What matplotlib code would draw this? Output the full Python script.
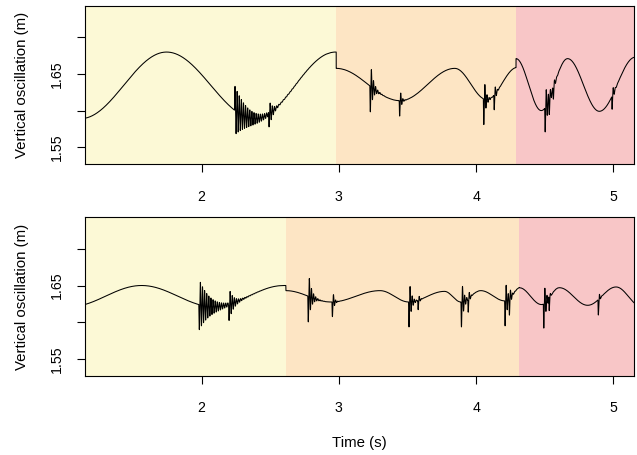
import numpy as np
import matplotlib
matplotlib.use("Agg")
import matplotlib.pyplot as plt

plt.rcParams['font.family'] = ['Liberation Sans', 'DejaVu Sans']

x_range = [1.153, 5.153]
y_range = [1.527, 1.743]
x_ticks = [2, 3, 4, 5]
y_ticks = [1.55, 1.60, 1.65, 1.70]
y_tick_labels = ['1.55', '', '1.65', '']
phase_colours = ['#FCF9D6', '#FDE5C4', '#F8C6C7']
ring_hz = 65.0

# top panel: phase edges, turning points of the sway in each phase, impact bursts
# (hit_amp = size and sign of the first swing of each burst)
top_edges = [1.153, 2.981, 4.291, 5.153]
top_turn_t = [[1.12, 1.745, 2.39, 2.975],
              [2.981, 3.447, 3.845, 4.078, 4.30],
              [4.291, 4.475, 4.667, 4.898, 5.16]]
top_turn_y = [[1.589, 1.680, 1.589, 1.680],
              [1.6577, 1.6135, 1.6577, 1.615, 1.659],
              [1.671, 1.600, 1.671, 1.599, 1.673]]
top_hit_t = [2.240, 2.488, 3.226, 3.440, 4.053, 4.129, 4.500, 4.530, 4.560, 4.988]
top_hit_amp = [0.033, -0.020, -0.035, -0.021, -0.035, -0.020, -0.033, -0.014, -0.014, -0.018]
top_hit_decay = [0.10, 0.03, 0.02, 0.011, 0.014, 0.010, 0.020, 0.008, 0.008, 0.010]

# bottom panel
bot_edges = [1.153, 2.614, 4.315, 5.153]
bot_turn_t = [[1.04, 1.563, 2.09, 2.60],
              [2.614, 2.945, 3.30, 3.51, 3.77, 3.89, 4.034, 4.21, 4.33],
              [4.315, 4.477, 4.607, 4.813, 5.02, 5.20]]
bot_turn_y = [[1.621, 1.650, 1.621, 1.650],
              [1.643, 1.6275, 1.643, 1.6275, 1.642, 1.6275, 1.643, 1.629, 1.648],
              [1.647, 1.624, 1.647, 1.623, 1.648, 1.622]]
bot_hit_t = [1.980, 2.197, 2.774, 2.950, 3.508, 3.575, 3.890, 3.940, 4.208, 4.240, 4.490, 4.530, 4.888]
bot_hit_amp = [-0.034, -0.020, -0.035, -0.020, -0.034, -0.013, -0.034, -0.018, -0.034, -0.018, -0.033, -0.020, -0.021]
bot_hit_decay = [0.08, 0.03, 0.022, 0.011, 0.016, 0.008, 0.016, 0.008, 0.016, 0.008, 0.016, 0.006, 0.006]


def sway(t, kt, ky):
    kt = np.asarray(kt)
    ky = np.asarray(ky)
    i = np.clip(np.searchsorted(kt, t) - 1, 0, len(kt) - 2)
    u = np.clip((t - kt[i]) / (kt[i + 1] - kt[i]), 0, 1)
    w = (1 - np.cos(np.pi * u)) / 2
    return ky[i] + (ky[i + 1] - ky[i]) * w


def trace(edges, turn_t, turn_y, hit_t, hit_amp, hit_decay):
    t = np.arange(edges[0], edges[-1], 0.0002)
    y = np.zeros_like(t)
    for k in range(len(edges) - 1):
        m = (t >= edges[k]) & (t < edges[k + 1])
        y[m] = sway(t[m], turn_t[k], turn_y[k])
    w = 2 * np.pi * ring_hz
    for t0, a, tau in zip(hit_t, hit_amp, hit_decay):
        # scale so the first swing reaches the read value
        dp = np.arctan(w * tau) / w
        peak = np.exp(-dp / tau) * np.sin(w * dp)
        d = t - t0
        m = (d >= 0) & (d < 10 * tau)
        y[m] += a / peak * np.exp(-d[m] / tau) * np.sin(w * d[m])
    return t, y


fig = plt.figure(figsize=(6.37, 4.55), dpi=100)
ax_top = fig.add_axes([0.1339, 0.6396, 0.8619, 0.3473])
ax_bot = fig.add_axes([0.1339, 0.1743, 0.8619, 0.3481])

panels = [(ax_top, top_edges, top_turn_t, top_turn_y, top_hit_t, top_hit_amp, top_hit_decay),
          (ax_bot, bot_edges, bot_turn_t, bot_turn_y, bot_hit_t, bot_hit_amp, bot_hit_decay)]

for ax, edges, tt, ty, ht, ha, hd in panels:
    for k in range(3):
        ax.axvspan(edges[k], edges[k + 1], color=phase_colours[k], lw=0, zorder=0)
    t, y = trace(edges, tt, ty, ht, ha, hd)
    ax.plot(t, y, color='black', lw=0.75, zorder=2)
    ax.set_xlim(x_range)
    ax.set_ylim(y_range)
    ax.set_xticks(x_ticks)
    ax.set_xticklabels([str(v) for v in x_ticks])
    ax.set_yticks(y_ticks)
    ax.set_yticklabels(y_tick_labels, rotation=90, va='center')
    ax.tick_params(direction='out', length=5.5, width=0.8, labelsize=10.2, colors='black')
    ax.tick_params(axis='x', pad=13)
    ax.tick_params(axis='y', pad=10)
    for s in ax.spines.values():
        s.set_linewidth(0.8)
        s.set_zorder(3)
    mid = (ax.get_position().y0 + ax.get_position().y1) / 2
    fig.text(22 / 637, mid, 'Vertical oscillation (m)', rotation=90,
             ha='center', va='center', fontsize=10.8)

fig.text(359.5 / 637, 1 - 443 / 455, 'Time (s)', ha='center', va='center', fontsize=10.8)

fig.savefig('out.png', dpi=100)
